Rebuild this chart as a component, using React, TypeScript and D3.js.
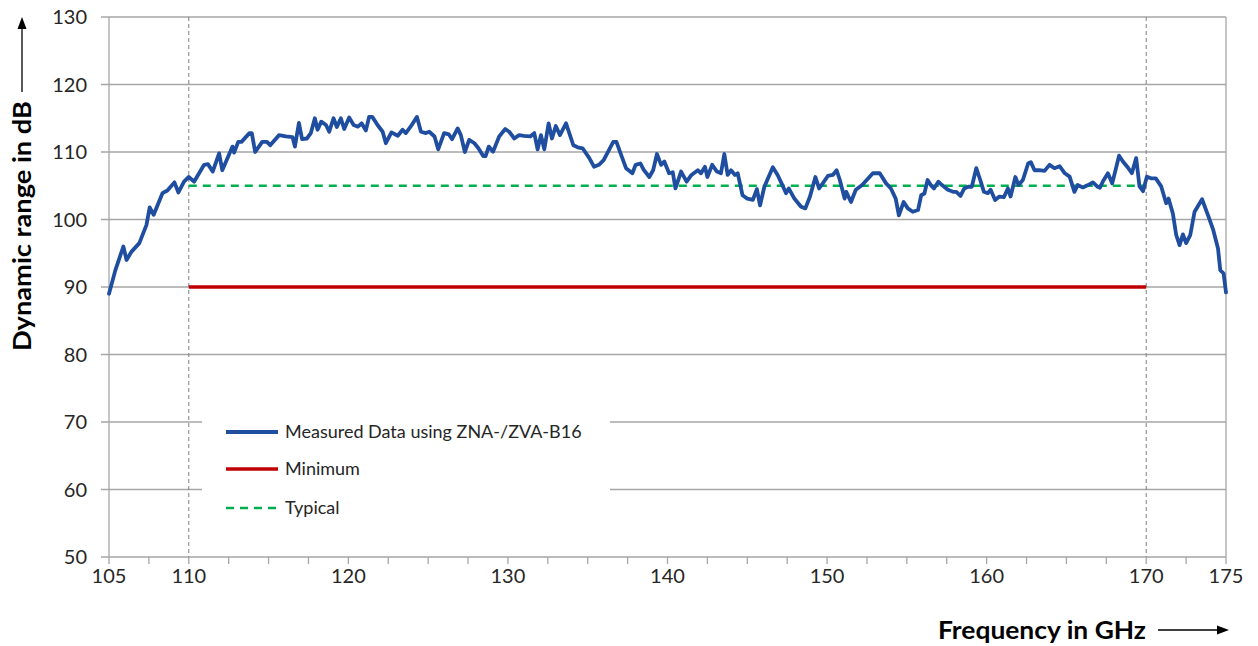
import React from "react";
import * as d3 from "d3";

const freqGHz: number[] = [
  105.0, 105.4, 105.9, 106.1, 106.4, 106.9, 107.35, 107.55, 107.8, 108.35, 108.66, 109.1, 109.35, 109.7,
  110.0, 110.33, 110.96, 111.2, 111.5, 111.9, 112.1, 112.74, 112.84, 113.1, 113.3, 113.8, 113.95, 114.16,
  114.6, 114.9, 115.1, 115.66, 116.08, 116.5, 116.65, 116.9, 117.1, 117.4, 117.65, 117.9, 118.07, 118.3,
  118.6, 118.8, 119.07, 119.28, 119.53, 119.74, 120.05, 120.33, 120.6, 120.83, 121.1, 121.3, 121.5, 121.83,
  122.15, 122.35, 122.7, 123.1, 123.4, 123.6, 123.9, 124.3, 124.55, 124.86, 125.07, 125.4, 125.63, 126.0,
  126.3, 126.5, 126.85, 127.05, 127.3, 127.57, 127.9, 128.15, 128.45, 128.6, 128.8, 129.07, 129.45, 129.83,
  130.08, 130.4, 130.7, 131.0, 131.4, 131.65, 131.86, 132.07, 132.28, 132.55, 132.76, 133.0, 133.26, 133.64,
  134.1, 134.37, 134.68, 135.1, 135.4, 135.7, 136.0, 136.6, 136.8, 137.1, 137.4, 137.8, 138.0, 138.3,
  138.5, 138.86, 139.1, 139.34, 139.6, 139.8, 140.1, 140.33, 140.5, 140.85, 141.2, 141.5, 141.9, 142.1,
  142.35, 142.5, 142.8, 143.1, 143.35, 143.56, 143.77, 143.98, 144.23, 144.4, 144.7, 145.0, 145.35, 145.6,
  145.8, 146.07, 146.6, 146.9, 147.2, 147.43, 147.6, 147.95, 148.37, 148.64, 148.93, 149.27, 149.5, 149.73,
  150.05, 150.36, 150.6, 150.8, 151.1, 151.2, 151.5, 151.8, 152.2, 152.87, 153.3, 153.7, 154.0, 154.3,
  154.5, 154.8, 155.06, 155.37, 155.7, 155.9, 156.1, 156.3, 156.5, 156.7, 156.97, 157.2, 157.57, 157.9,
  158.1, 158.36, 158.6, 158.85, 159.07, 159.35, 159.6, 159.83, 160.07, 160.25, 160.53, 160.8, 161.08, 161.33,
  161.5, 161.8, 162.0, 162.27, 162.6, 162.77, 163.0, 163.3, 163.63, 163.94, 164.25, 164.57, 164.9, 165.2,
  165.5, 165.7, 166.03, 166.35, 166.66, 166.93, 167.1, 167.3, 167.6, 167.87, 168.3, 168.54, 168.85, 169.1,
  169.37, 169.58, 169.8, 170.04, 170.3, 170.6, 170.94, 171.25, 171.4, 171.67, 171.88, 172.09, 172.3, 172.5,
  172.76, 173.03, 173.5, 173.87, 174.2, 174.5, 174.64, 174.85, 175.0,
];

const measuredDb: number[] = [
  89.0, 92.5, 96.0, 94.0, 95.2, 96.5, 99.2, 101.8, 100.7, 103.9, 104.3, 105.5, 104.0, 105.6,
  106.3, 105.6, 108.1, 108.2, 107.1, 109.8, 107.3, 110.8, 109.9, 111.5, 111.5, 112.8, 112.8, 110.0,
  111.5, 111.5, 111.0, 112.5, 112.3, 112.2, 110.8, 114.3, 111.9, 112.0, 112.8, 115.0, 113.3, 114.5,
  114.0, 113.0, 115.0, 113.7, 115.0, 113.4, 115.1, 114.0, 113.75, 114.25, 113.2, 115.2, 115.2, 114.0,
  113.0, 111.3, 112.9, 112.4, 113.3, 112.8, 113.75, 115.2, 113.0, 112.8, 113.0, 112.3, 110.4, 112.8,
  112.6, 111.9, 113.5, 112.5, 110.0, 111.8, 111.3, 110.55, 109.4, 109.4, 110.8, 110.05, 112.3, 113.4,
  113.0, 112.0, 112.5, 112.4, 112.3, 112.8, 110.4, 112.5, 110.4, 114.25, 112.0, 113.85, 112.5, 114.25,
  111.0, 110.7, 110.55, 109.1, 107.8, 108.1, 108.8, 111.5, 111.5, 109.55, 107.6, 106.85, 108.1, 108.3,
  107.4, 106.3, 107.3, 109.7, 108.1, 108.6, 106.85, 107.0, 104.6, 107.1, 105.6, 106.6, 107.3, 106.85,
  107.8, 106.3, 108.1, 107.1, 106.85, 109.7, 106.6, 107.3, 106.6, 106.85, 103.6, 103.1, 102.9, 104.5,
  102.1, 104.85, 107.75, 106.6, 105.1, 103.9, 104.6, 103.1, 101.9, 101.65, 103.4, 106.3, 104.6, 105.35,
  106.45, 106.6, 107.3, 105.85, 103.1, 104.1, 102.6, 104.4, 105.1, 106.85, 106.85, 105.35, 104.6, 103.1,
  100.6, 102.6, 101.65, 101.15, 101.4, 103.6, 103.85, 105.85, 105.1, 104.6, 105.6, 105.1, 104.4, 104.1,
  104.1, 103.5, 104.6, 104.85, 104.85, 107.6, 105.85, 104.1, 103.9, 104.4, 102.9, 103.4, 103.3, 104.6,
  103.4, 106.3, 105.1, 105.85, 108.3, 108.5, 107.3, 107.3, 107.2, 108.1, 107.6, 107.9, 106.85, 106.35,
  104.1, 105.1, 104.75, 105.1, 105.5, 104.9, 104.7, 105.7, 106.85, 105.35, 109.45, 108.6, 107.7, 106.85,
  109.1, 104.9, 104.2, 106.35, 106.1, 106.1, 104.9, 102.4, 103.1, 100.9, 97.7, 96.2, 97.8, 96.5,
  97.7, 101.15, 103.0, 100.65, 98.45, 95.7, 92.5, 92.0, 89.2,
];

const specStart = 110;
const specEnd = 170;
const minimumDb = 90;
const typicalDb = 105;

const yTicks: number[] = [50, 60, 70, 80, 90, 100, 110, 120, 130];
const xTickLabels: number[] = [105, 110, 120, 130, 140, 150, 160, 170, 175];
const legendLabels: string[] = ["Measured Data using ZNA-/ZVA-B16", "Minimum", "Typical"];

const W = 1258;
const H = 646;
const left = 109;
const right = 1226;
const top = 17;
const bottom = 557;

const BLUE = "#1f4ea1";
const RED = "#c00000";
const GREEN = "#00b050";
const GRID = "#a6a6a6";
const TXT = "#262626";
const FONT = "Lato, 'Open Sans', sans-serif";

export default function App() {
  const x = d3.scaleLinear().domain([105, 175]).range([left, right]);
  const y = d3.scaleLinear().domain([50, 130]).range([bottom, top]);
  const minorTicks = d3.range(105, 175.01, 2.5);

  const pts: [number, number][] = freqGHz.map((f, i) => [f, measuredDb[i]]);
  const line = d3
    .line<[number, number]>()
    .x((d) => x(d[0]))
    .y((d) => y(d[1]));

  const legendX = 226;
  const legendRows = [432, 469, 508];
  const legendBox = { x: 202, y: 404, w: 408, h: 126 };

  return (
    <svg
      width={W}
      height={H}
      style={{ position: "absolute", left: 0, top: 0, background: "#fff" }}
      fontFamily={FONT}
    >
      <rect x={0} y={0} width={W} height={H} fill="#fff" />
      {yTicks.map((t) => (
        <line key={"g" + t} x1={left - 8} x2={right} y1={y(t)} y2={y(t)} stroke={GRID} strokeWidth={1.3} />
      ))}
      <line x1={left} x2={left} y1={top} y2={bottom} stroke={GRID} strokeWidth={1.3} />
      <line x1={right} x2={right} y1={top} y2={bottom} stroke={GRID} strokeWidth={1.3} />
      {minorTicks.map((t) => (
        <line key={"xt" + t} x1={x(t)} x2={x(t)} y1={bottom} y2={bottom + 7} stroke={GRID} strokeWidth={1.3} />
      ))}
      {[specStart, specEnd].map((f) => (
        <line
          key={"v" + f}
          x1={x(f)}
          x2={x(f)}
          y1={top}
          y2={bottom}
          stroke="#808080"
          strokeWidth={1}
          strokeDasharray="4,3"
        />
      ))}
      <rect x={legendBox.x} y={legendBox.y} width={legendBox.w} height={legendBox.h} fill="#fff" />
      <line x1={x(specStart)} x2={x(specEnd)} y1={y(minimumDb)} y2={y(minimumDb)} stroke={RED} strokeWidth={3.5} />
      <line
        x1={x(specStart)}
        x2={x(specEnd)}
        y1={y(typicalDb)}
        y2={y(typicalDb)}
        stroke={GREEN}
        strokeWidth={2.5}
        strokeDasharray="8,6"
      />
      <path d={line(pts) || ""} fill="none" stroke={BLUE} strokeWidth={3.8} strokeLinejoin="round" strokeLinecap="round" />

      {yTicks.map((t) => (
        <text key={"yl" + t} x={87} y={y(t)} dy="0.36em" textAnchor="end" fontSize={20} fill={TXT}>
          {t}
        </text>
      ))}
      {xTickLabels.map((t) => (
        <text key={"xl" + t} x={x(t)} y={583} textAnchor="middle" fontSize={20} fill={TXT}>
          {t}
        </text>
      ))}

      <line x1={legendX} x2={legendX + 52} y1={legendRows[0]} y2={legendRows[0]} stroke={BLUE} strokeWidth={3.8} />
      <line x1={legendX} x2={legendX + 52} y1={legendRows[1]} y2={legendRows[1]} stroke={RED} strokeWidth={3.5} />
      <line
        x1={legendX}
        x2={legendX + 52}
        y1={legendRows[2]}
        y2={legendRows[2]}
        stroke={GREEN}
        strokeWidth={2.5}
        strokeDasharray="8,6"
      />
      {legendLabels.map((l, i) => (
        <text key={l} x={285} y={legendRows[i]} dy="0.35em" fontSize={18} fill={TXT}>
          {l}
        </text>
      ))}

      <text
        transform="translate(31,226) rotate(-90)"
        textAnchor="middle"
        fontSize={25}
        fontWeight="bold"
        fill="#000"
        textLength={250}
        lengthAdjust="spacingAndGlyphs"
      >
        Dynamic range in dB
      </text>
      <line x1={22} x2={22} y1={92} y2={26} stroke="#000" strokeWidth={1.3} />
      <path d="M22,17 L17.5,29 L26.5,29 Z" fill="#000" />

      <text
        x={1146}
        y={639}
        textAnchor="end"
        fontSize={25}
        fontWeight="bold"
        fill="#000"
        textLength={208}
        lengthAdjust="spacingAndGlyphs"
      >
        Frequency in GHz
      </text>
      <line x1={1158} x2={1220} y1={630} y2={630} stroke="#000" strokeWidth={1.3} />
      <path d="M1229,630 L1217,625.5 L1217,634.5 Z" fill="#000" />
    </svg>
  );
}
